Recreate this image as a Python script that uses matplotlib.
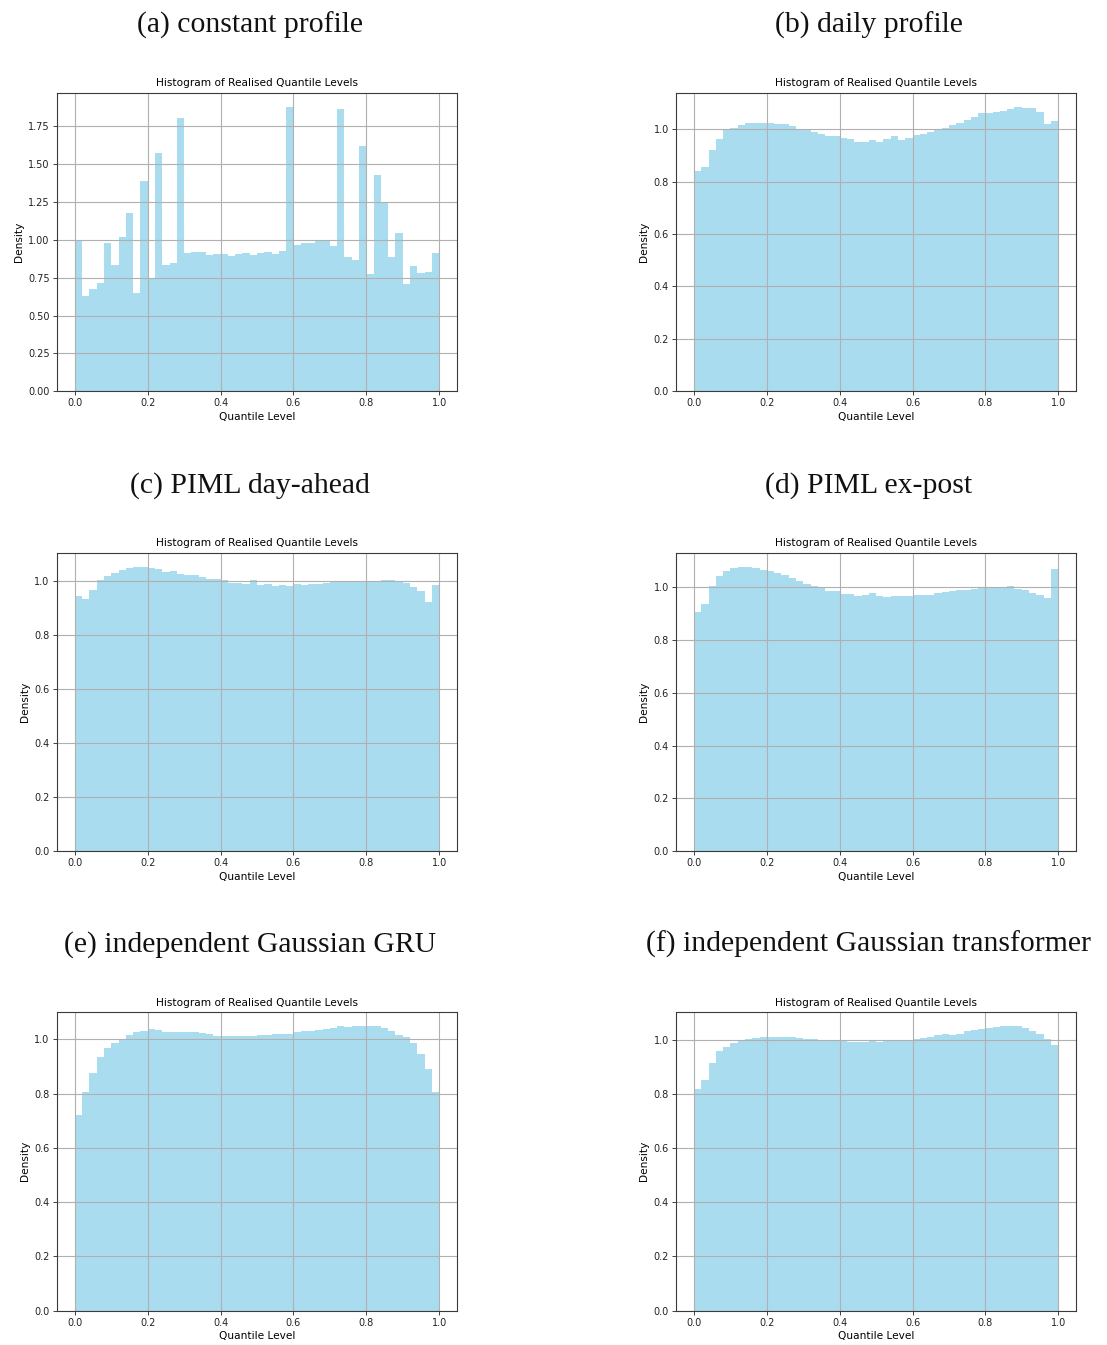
import numpy as np
import matplotlib
matplotlib.use("Agg")
import matplotlib.pyplot as plt

# Histogram densities of realised quantile levels, 50 equal bins on [0, 1]
bin_edges = np.linspace(0.0, 1.0, 51)

constant_profile = [
    0.99, 0.631, 0.677, 0.717, 0.976, 0.833, 1.016, 1.176, 0.651, 1.387,
    0.750, 1.570, 0.833, 0.849, 1.803, 0.912, 0.921, 0.917, 0.897, 0.906,
    0.904, 0.893, 0.906, 0.912, 0.899, 0.912, 0.917, 0.908, 0.926, 1.876,
    0.967, 0.981, 0.976, 0.996, 0.996, 0.961, 1.862, 0.884, 0.866, 1.620,
    0.774, 1.425, 1.247, 0.884, 1.044, 0.710, 0.825, 0.778, 0.789, 0.912,
]

daily_profile = [
    0.841, 0.855, 0.919, 0.963, 0.999, 1.006, 1.015, 1.022, 1.022, 1.024,
    1.024, 1.018, 1.018, 1.013, 1.000, 0.999, 0.990, 0.981, 0.973, 0.973,
    0.967, 0.962, 0.953, 0.953, 0.959, 0.953, 0.961, 0.973, 0.957, 0.967,
    0.977, 0.981, 0.990, 0.999, 1.004, 1.017, 1.024, 1.034, 1.047, 1.061,
    1.061, 1.066, 1.071, 1.076, 1.085, 1.081, 1.079, 1.066, 1.020, 1.032,
]

piml_day_ahead = [
    0.946, 0.935, 0.970, 1.004, 1.020, 1.032, 1.044, 1.051, 1.054, 1.052,
    1.051, 1.046, 1.037, 1.038, 1.027, 1.023, 1.023, 1.016, 1.010, 1.010,
    1.005, 0.995, 0.994, 0.991, 1.005, 0.988, 0.990, 0.985, 0.986, 0.984,
    0.990, 0.988, 0.990, 0.991, 0.994, 0.999, 1.000, 1.000, 1.000, 1.000,
    1.000, 1.001, 1.004, 1.004, 1.000, 0.995, 0.980, 0.965, 0.925, 0.988,
]

piml_ex_post = [
    0.907, 0.937, 1.005, 1.043, 1.062, 1.072, 1.077, 1.077, 1.072, 1.067,
    1.062, 1.053, 1.045, 1.034, 1.023, 1.014, 1.005, 0.996, 0.987, 0.985,
    0.976, 0.973, 0.968, 0.971, 0.980, 0.966, 0.963, 0.965, 0.967, 0.968,
    0.971, 0.971, 0.972, 0.980, 0.982, 0.987, 0.989, 0.990, 0.995, 0.999,
    0.999, 0.999, 0.999, 1.003, 0.994, 0.990, 0.977, 0.972, 0.960, 1.068,
]

gaussian_gru = [
    0.721, 0.805, 0.877, 0.936, 0.966, 0.987, 1.001, 1.015, 1.025, 1.029,
    1.036, 1.033, 1.028, 1.028, 1.028, 1.028, 1.025, 1.022, 1.018, 1.013,
    1.013, 1.013, 1.011, 1.013, 1.013, 1.017, 1.015, 1.020, 1.020, 1.021,
    1.025, 1.029, 1.032, 1.034, 1.039, 1.043, 1.048, 1.044, 1.048, 1.048,
    1.047, 1.047, 1.040, 1.032, 1.015, 1.007, 0.987, 0.947, 0.891, 0.805,
]

gaussian_transformer = [
    0.818, 0.850, 0.914, 0.957, 0.974, 0.988, 0.995, 1.001, 1.007, 1.009,
    1.009, 1.010, 1.009, 1.010, 1.006, 1.004, 1.004, 0.999, 0.998, 0.994,
    0.995, 0.993, 0.990, 0.990, 0.994, 0.993, 0.995, 0.999, 0.999, 1.000,
    1.002, 1.005, 1.010, 1.017, 1.021, 1.017, 1.021, 1.031, 1.036, 1.039,
    1.042, 1.047, 1.049, 1.049, 1.050, 1.042, 1.034, 1.022, 1.002, 0.979,
]

captions = [
    "(a) constant profile",
    "(b) daily profile",
    "(c) PIML day-ahead",
    "(d) PIML ex-post",
    "(e) independent Gaussian GRU",
    "(f) independent Gaussian transformer",
]
series = [constant_profile, daily_profile, piml_day_ahead,
          piml_ex_post, gaussian_gru, gaussian_transformer]

W, H = 1107, 1345
fig = plt.figure(figsize=(W / 100, H / 100), dpi=100)
fig.patch.set_facecolor("white")

# pixel layout of the 3x2 grid
col_left = [56.7, 675.8]
ax_w = 400.6
row_top = [92.7, 552.7, 1012.0]
ax_h = 298.6
caption_baseline = [33.0, 493.0, 952.0]
caption_center = [250.0, 869.0]

left_edges = bin_edges[:-1]
widths = np.diff(bin_edges)

for i, (cap, vals) in enumerate(zip(captions, series)):
    r, c = divmod(i, 2)
    x0 = col_left[c]
    y0 = row_top[r] + ax_h
    ax = fig.add_axes([x0 / W, 1 - y0 / H, ax_w / W, ax_h / H])
    ax.bar(left_edges, vals, width=widths, align="edge",
           color="skyblue", alpha=0.7, edgecolor="none", linewidth=0)
    ax.grid(True, color="#b0b0b0", linewidth=0.8)
    ax.set_title("Histogram of Realised Quantile Levels", fontsize=7.6, pad=4.5)
    ax.set_xlabel("Quantile Level", fontsize=7.6, labelpad=2.5)
    ax.set_ylabel("Density", fontsize=7.6, labelpad=3)
    ax.tick_params(labelsize=7.0, length=2.6, width=0.6, pad=2.5,
                   colors="#222222")
    ax.set_xticks([0.0, 0.2, 0.4, 0.6, 0.8, 1.0])
    for sp in ax.spines.values():
        sp.set_color("#3a3a3a")
        sp.set_linewidth(0.8)

    fig.text(caption_center[c] / W, 1 - caption_baseline[r] / H, cap,
             ha="center", va="baseline", fontsize=21.4,
             family="Liberation Serif", color="#111111")

fig.savefig("out.png", dpi=100, facecolor="white")
